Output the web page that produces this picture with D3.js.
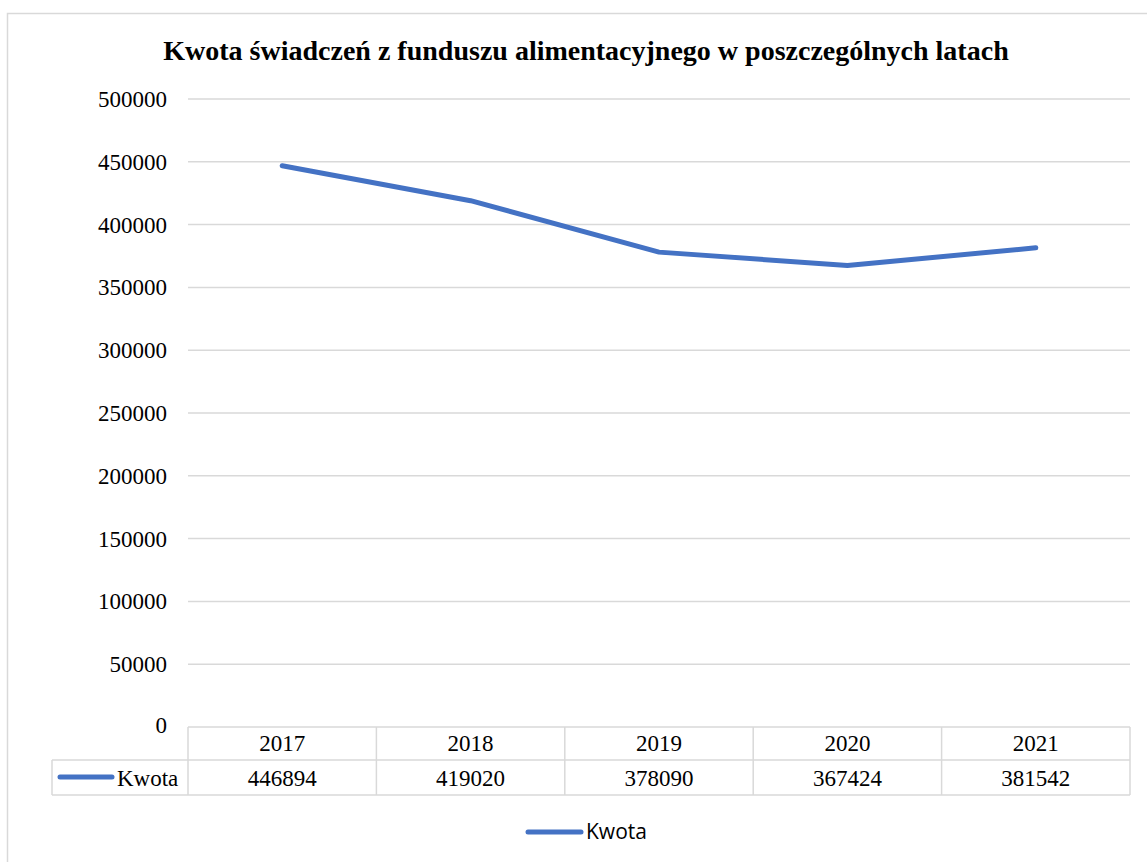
<!DOCTYPE html>
<html>
<head>
<meta charset="utf-8">
<script src="https://cdn.jsdelivr.net/npm/d3@7"></script>
<style>
  body { margin: 0; background: #fff; }
  .serif { font-family: "Liberation Serif"; fill: #000; }
  .title { font-size: 28px; font-weight: bold; }
  .lbl { font-size: 23px; }
  .legend-text { font-family: "Open Sans"; font-size: 21px; fill: #000; }
</style>
</head>
<body>
<div id="chart"></div>
<script>
// data
var years = ["2017", "2018", "2019", "2020", "2021"];
var kwota = [446894, 419020, 378090, 367424, 381542];
var yTicks = [0, 50000, 100000, 150000, 200000, 250000, 300000, 350000, 400000, 450000, 500000];
var seriesName = "Kwota";
var title = "Kwota świadczeń z funduszu alimentacyjnego w poszczególnych latach";

var width = 1147, height = 862;
var blue = "#4472c4", grid = "#d9d9d9";

var svg = d3.select("#chart").append("svg")
    .attr("width", width)
    .attr("height", height);

// outer chart frame
svg.append("rect")
    .attr("x", 7.5).attr("y", 13.5)
    .attr("width", width + 20).attr("height", height + 20)
    .style("fill", "#fff")
    .style("stroke", grid)
    .style("stroke-width", 1.5);

var plotLeft = 188, plotRight = 1130, plotTop = 99, plotBottom = 727;

var xScale = d3.scaleBand()
    .domain(years)
    .range([plotLeft, plotRight]);

var yScale = d3.scaleLinear()
    .domain([0, 500000])
    .range([plotBottom, plotTop]);

// title
svg.append("text")
    .attr("class", "serif title")
    .attr("x", 586)
    .attr("y", 60)
    .attr("text-anchor", "middle")
    .text(title);

// gridlines
svg.selectAll(".gridline")
    .data(yTicks.filter(function(d) { return d > 0; }))
   .enter()
    .append("line")
    .attr("class", "gridline")
    .attr("x1", plotLeft).attr("x2", plotRight)
    .attr("y1", function(d) { return yScale(d); })
    .attr("y2", function(d) { return yScale(d); })
    .style("stroke", grid)
    .style("stroke-width", 1.5);

// y axis labels
var yAxis = d3.axisLeft(yScale)
    .tickValues(yTicks)
    .tickFormat(d3.format("d"))
    .tickSize(0)
    .tickPadding(21);

var yg = svg.append("g")
    .attr("class", "y axis")
    .attr("transform", "translate(" + plotLeft + ",0)")
    .call(yAxis)
    .attr("font-family", null)
    .attr("font-size", null);

yg.select(".domain").remove();
yg.selectAll("text")
    .attr("class", "serif lbl")
    .attr("dy", "0.33em");
yg.selectAll(".tick").filter(function(d) { return d === 0; })
    .select("text").attr("dy", "0.25em");

// data table
var row1 = plotBottom, row2 = 760, row3 = 795, labelLeft = 52;

svg.append("line")
    .attr("x1", plotLeft).attr("x2", plotRight)
    .attr("y1", row1).attr("y2", row1)
    .style("stroke", grid).style("stroke-width", 1.5);

[row2, row3].forEach(function(yy) {
  svg.append("line")
    .attr("x1", labelLeft).attr("x2", plotRight)
    .attr("y1", yy).attr("y2", yy)
    .style("stroke", grid).style("stroke-width", 1.5);
});

svg.selectAll(".colline")
    .data(years.concat(["end"]))
   .enter()
    .append("line")
    .attr("class", "colline")
    .attr("x1", function(d) { return d === "end" ? plotRight : xScale(d); })
    .attr("x2", function(d) { return d === "end" ? plotRight : xScale(d); })
    .attr("y1", row1).attr("y2", row3)
    .style("stroke", grid).style("stroke-width", 1.5);

svg.append("line")
    .attr("x1", labelLeft).attr("x2", labelLeft)
    .attr("y1", row2).attr("y2", row3)
    .style("stroke", grid).style("stroke-width", 1.5);

svg.selectAll(".yearlabel")
    .data(years)
   .enter()
    .append("text")
    .attr("class", "serif lbl")
    .attr("x", function(d) { return xScale(d) + xScale.bandwidth() / 2; })
    .attr("y", 751)
    .attr("text-anchor", "middle")
    .text(function(d) { return d; });

svg.selectAll(".valuelabel")
    .data(kwota)
   .enter()
    .append("text")
    .attr("class", "serif lbl")
    .attr("x", function(d, i) { return xScale(years[i]) + xScale.bandwidth() / 2; })
    .attr("y", 786)
    .attr("text-anchor", "middle")
    .text(function(d) { return d; });

// legend key in table
svg.append("line")
    .attr("x1", 60).attr("x2", 112)
    .attr("y1", 777).attr("y2", 777)
    .style("stroke", blue).style("stroke-width", 5)
    .style("stroke-linecap", "round");

svg.append("text")
    .attr("class", "serif lbl")
    .attr("x", 117).attr("y", 786)
    .text(seriesName);

// the line
var line = d3.line()
    .x(function(d, i) { return xScale(years[i]) + xScale.bandwidth() / 2; })
    .y(function(d) { return yScale(d); });

svg.append("path")
    .datum(kwota)
    .attr("d", line)
    .style("fill", "none")
    .style("stroke", blue)
    .style("stroke-width", 5)
    .style("stroke-linecap", "round")
    .style("stroke-linejoin", "round");

// bottom legend
svg.append("line")
    .attr("x1", 528).attr("x2", 581)
    .attr("y1", 832).attr("y2", 832)
    .style("stroke", blue).style("stroke-width", 5)
    .style("stroke-linecap", "round");

svg.append("text")
    .attr("class", "legend-text")
    .attr("x", 586).attr("y", 839)
    .text(seriesName);
</script>
</body>
</html>
